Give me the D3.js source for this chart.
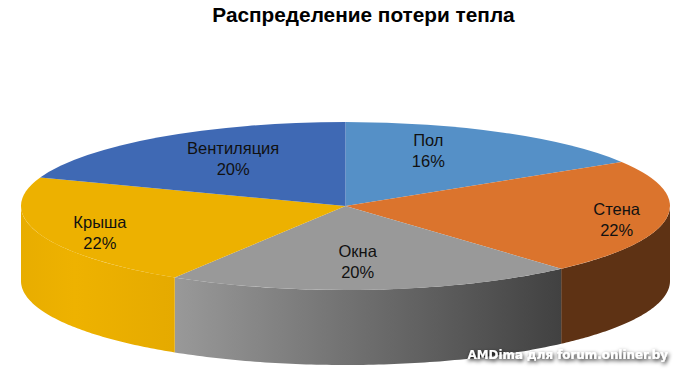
<!DOCTYPE html>
<html>
<head>
<meta charset="utf-8">
<title>Распределение потери тепла</title>
<script src="https://d3js.org/d3.v7.min.js"></script>
<style>
html, body { margin: 0; padding: 0; background: #fff; }
svg { display: block; }
</style>
</head>
<body>
<script>
var categories = ["Пол", "Стена", "Окна", "Крыша", "Вентиляция"];
var values = [16.2, 22.23, 20.39, 21.68, 19.5];
var percentLabels = ["16%", "22%", "20%", "22%", "20%"];
var topColors = ["#5590c7", "#db742d", "#999999", "#edb100", "#3f69b4"];
var chartTitle = "Распределение потери тепла";
var watermark = "AMDima для forum.onliner.by";

var width = 691, height = 378;
var cx = 345.5, cy = 206, rx = 324.5, ry = 84, depth = 75;

// label nudges from the slice centroid, px
var labelDx = [-31, 40, -8, -25, 22];
var labelDy = [-2, 5, -4, 7, 2];

var svg = d3.select("body").append("svg")
    .attr("width", width)
    .attr("height", height)
    .style("font-family", "'Liberation Sans', Arial, sans-serif");

var defs = svg.append("defs");

function addGradient(id, x1, x2, stops) {
  var g = defs.append("linearGradient")
      .attr("id", id)
      .attr("gradientUnits", "userSpaceOnUse")
      .attr("x1", x1).attr("x2", x2).attr("y1", 0).attr("y2", 0);
  stops.forEach(function (s) {
    g.append("stop").attr("offset", s[0]).attr("stop-color", s[1]);
  });
}

var shadow = defs.append("filter").attr("id", "wmShadow")
    .attr("x", "-10%").attr("y", "-60%").attr("width", "120%").attr("height", "220%");
shadow.append("feGaussianBlur").attr("in", "SourceAlpha").attr("stdDeviation", 2).attr("result", "b");
shadow.append("feOffset").attr("in", "b").attr("dx", 1).attr("dy", 2).attr("result", "o");
var merge = shadow.append("feMerge");
merge.append("feMergeNode").attr("in", "o");
merge.append("feMergeNode").attr("in", "SourceGraphic");

var slices = d3.pie().sort(null).startAngle(0).endAngle(2 * Math.PI)(values);

function px(a) { return cx + rx * Math.sin(a); }
function py(a) { return cy - ry * Math.cos(a); }

// side walls: only the front half of the ellipse is visible
var wall = d3.area()
    .x(function (a) { return px(a); })
    .y0(function (a) { return py(a); })
    .y1(function (a) { return py(a) + depth; });

addGradient("wall2", px(slices[2].startAngle), px(slices[2].endAngle), [[0, "#414141"], [1, "#999999"]]);
addGradient("wall3", px(Math.PI * 1.5), px(slices[3].startAngle), [[0, "#e8ad00"], [0.35, "#eeb200"], [1, "#e5aa00"]]);

var wallFills = [null, "#5e3214", "url(#wall2)", "url(#wall3)", null];

slices.forEach(function (s, i) {
  var a0 = Math.max(s.startAngle, Math.PI / 2);
  var a1 = Math.min(s.endAngle, Math.PI * 1.5);
  if (a1 <= a0) return;
  var steps = d3.range(0, 81).map(function (k) { return a0 + (a1 - a0) * k / 80; });
  svg.append("path").attr("d", wall(steps)).attr("fill", wallFills[i]);
});

var arc = d3.arc().innerRadius(0).outerRadius(rx);
var top3d = svg.append("g")
    .attr("transform", "translate(" + cx + "," + cy + ") scale(1," + (ry / rx) + ")");
top3d.selectAll("path")
    .data(slices).enter()
    .append("path")
    .attr("d", arc)
    .attr("fill", function (d, i) { return topColors[i]; });

var labelArc = d3.arc().innerRadius(rx * 0.72).outerRadius(rx * 0.72);
var labels = svg.append("g")
    .attr("font-size", 16.5)
    .attr("fill", "#111")
    .attr("text-anchor", "middle");
slices.forEach(function (s, i) {
  var c = labelArc.centroid(s);
  var x = cx + c[0] + labelDx[i];
  var y = cy + c[1] * ry / rx + labelDy[i];
  labels.append("text").attr("x", x).attr("y", y - 5).text(categories[i]);
  labels.append("text").attr("x", x).attr("y", y + 16).text(percentLabels[i]);
});

svg.append("text")
    .attr("x", 363.5)
    .attr("y", 22)
    .attr("text-anchor", "middle")
    .attr("font-size", 20.8)
    .attr("font-weight", "bold")
    .attr("fill", "#000")
    .text(chartTitle);

svg.append("text")
    .attr("x", 668)
    .attr("y", 359)
    .attr("text-anchor", "end")
    .attr("font-size", 11.9)
    .attr("font-weight", "bold")
    .attr("font-family", "'DejaVu Sans', Verdana, sans-serif")
    .attr("fill", "#fff")
    .attr("filter", "url(#wmShadow)")
    .text(watermark);
</script>
</body>
</html>
